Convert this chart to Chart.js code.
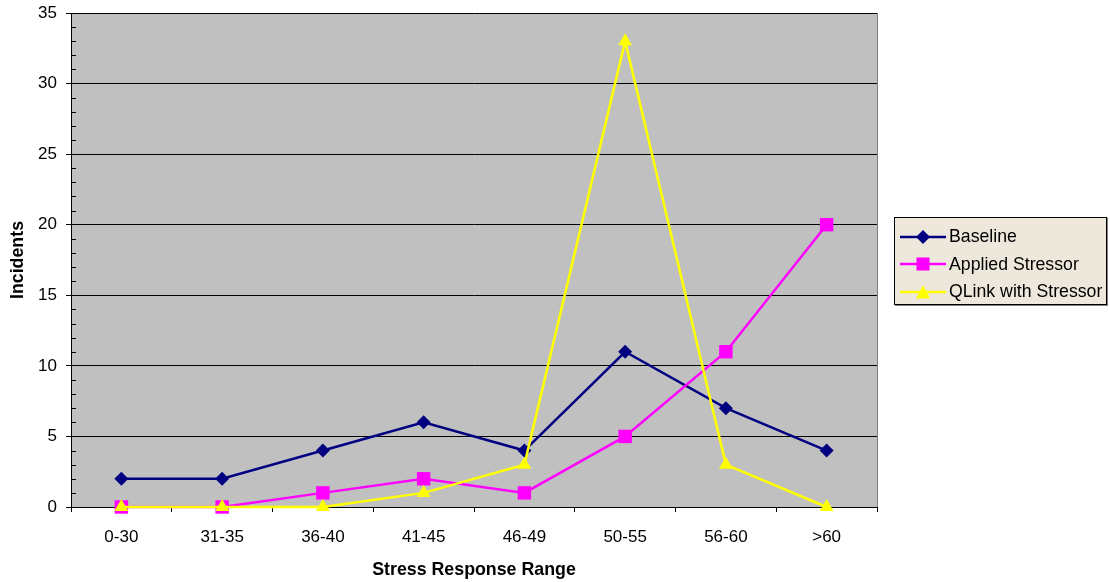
<!DOCTYPE html>
<html>
<head>
<meta charset="utf-8">
<script src="https://cdn.jsdelivr.net/npm/chart.js@4/dist/chart.umd.min.js"></script>
<style>
  html, body { margin: 0; padding: 0; background: #fff; }
  #wrap { position: relative; width: 1110px; height: 582px; }
  #legend {
    position: absolute; left: 894px; top: 217px; width: 213px; height: 88px;
    background: #EEE7DB; border: 1px solid #000; box-shadow: 1px 1px 0 #808080;
    font-family: "Liberation Sans", Arial, sans-serif; font-size: 17.7px; color: #000;
    box-sizing: border-box; padding-top: 5px;
  }
  .row { display: flex; align-items: center; height: 27.5px; padding-left: 5px; }
  .row svg { margin-right: 3px; }
</style>
</head>
<body>
<div id="wrap">
  <canvas id="chart" width="1110" height="582"></canvas>
  <div id="legend"></div>
</div>
<script>
// данные графика
const categories = ["0-30", "31-35", "36-40", "41-45", "46-49", "50-55", "56-60", ">60"];
const seriesNames = ["Baseline", "Applied Stressor", "QLink with Stressor"];
const baseline = [2, 2, 4, 6, 4, 11, 7, 4];
const appliedStressor = [0, 0, 1, 2, 1, 5, 11, 20];
const qlinkStressor = [0, 0, 0, 1, 3, 33, 3, 0];
const yTicks = [0, 5, 10, 15, 20, 25, 30, 35];

const colors = ["#000080", "#FF00FF", "#FFFF00"];
const shapes = ["rectRot", "rect", "triangle"];
const radii = [7, 9.5, 8];

// фон области построения и малые деления
const plotBg = {
  id: "plotBg",
  beforeDraw(chart) {
    const { ctx, chartArea: a } = chart;
    ctx.save();
    ctx.fillStyle = "#C0C0C0";
    ctx.fillRect(a.left, a.top, a.right - a.left, a.bottom - a.top);
    ctx.restore();
  },
  beforeDatasetsDraw(chart) {
    const { ctx, chartArea: a, scales } = chart;
    const y = scales.y;
    ctx.save();
    ctx.strokeStyle = "#808080";
    ctx.lineWidth = 1;
    ctx.beginPath();
    ctx.moveTo(a.right + 0.5, a.top);
    ctx.lineTo(a.right + 0.5, a.bottom);
    ctx.stroke();
    ctx.strokeStyle = "#000";
    ctx.beginPath();
    for (let v = 0; v <= 35; v++) {
      if (v % 5 === 0) continue;
      const py = Math.round(y.getPixelForValue(v)) + 0.5;
      ctx.moveTo(a.left, py);
      ctx.lineTo(a.left + 5, py);
    }
    ctx.stroke();
    ctx.restore();
  }
};

const values = [baseline, appliedStressor, qlinkStressor];
const datasets = values.map((d, i) => ({
  label: seriesNames[i],
  data: d,
  borderColor: colors[i],
  backgroundColor: colors[i],
  borderWidth: 2.5,
  pointStyle: shapes[i],
  pointRadius: radii[i],
  pointHoverRadius: radii[i],
  pointBorderWidth: 0,
  tension: 0,
  clip: false,
  order: 3 - i,
}));

const tickFont = { family: "'Liberation Sans', Arial, sans-serif", size: 17 };
const titleFont = { family: "'Liberation Sans', Arial, sans-serif", size: 17.8, weight: "bold" };

new Chart(document.getElementById("chart"), {
  type: "line",
  data: { labels: categories, datasets: datasets },
  plugins: [plotBg],
  options: {
    responsive: false,
    animation: false,
    devicePixelRatio: 1,
    layout: { padding: { left: 0, right: 233, top: 13, bottom: 0 } },
    plugins: { legend: { display: false }, tooltip: { enabled: false } },
    scales: {
      x: {
        type: "category",
        offset: true,
        grid: { offset: true, drawOnChartArea: false, color: "#000", tickLength: 5 },
        border: { color: "#000", width: 1 },
        ticks: { color: "#000", font: tickFont, padding: 15, maxRotation: 0 },
        title: { display: true, text: "Stress Response Range", color: "#000", font: titleFont, padding: { top: 0, bottom: 1 } },
        afterFit(scale) { scale.height = 75; scale.paddingLeft = 0; scale.paddingRight = 0; },
      },
      y: {
        min: 0,
        max: 35,
        afterBuildTicks(scale) { scale.ticks = yTicks.map(v => ({ value: v })); },
        grid: { color: "#000", lineWidth: 1, tickLength: 5 },
        border: { color: "#000", width: 1 },
        ticks: { color: "#000", font: tickFont, padding: 9 },
        title: { display: true, text: "Incidents", color: "#000", font: titleFont, padding: { top: 7, bottom: 0 } },
        afterFit(scale) { scale.width = 71; scale.paddingTop = 0; scale.paddingBottom = 0; },
      },
    },
  },
});

// легенда
const legend = document.getElementById("legend");
seriesNames.forEach((name, i) => {
  let marker;
  if (shapes[i] === "rectRot") marker = '<polygon points="23,1 30,8 23,15 16,8" fill="' + colors[i] + '"/>';
  else if (shapes[i] === "rect") marker = '<rect x="16.5" y="1.5" width="13" height="13" fill="' + colors[i] + '"/>';
  else marker = '<polygon points="23,1 30,14.5 16,14.5" fill="' + colors[i] + '"/>';
  legend.innerHTML += '<div class="row"><svg width="46" height="16"><line x1="0" y1="8" x2="46" y2="8" stroke="' +
    colors[i] + '" stroke-width="2.5"/>' + marker + '</svg><span>' + name + '</span></div>';
});
</script>
</body>
</html>
